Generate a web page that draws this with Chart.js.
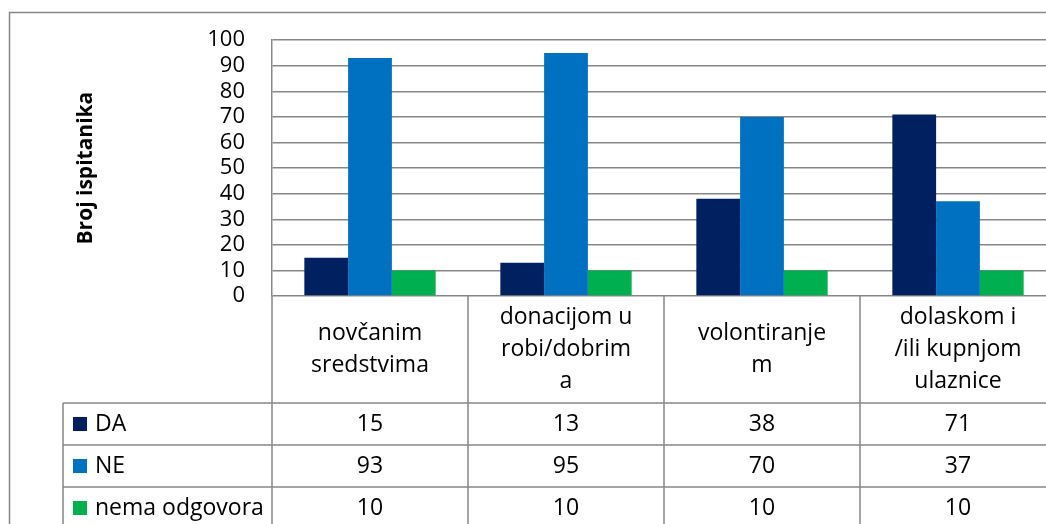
<!DOCTYPE html>
<html lang="hr">
<head>
<meta charset="utf-8">
<title>Broj ispitanika</title>
<script src="https://cdn.jsdelivr.net/npm/chart.js@4.4.1/dist/chart.umd.min.js"></script>
<style>
  html, body { margin: 0; padding: 0; background: #fff; overflow: hidden; }
  #wrap { position: absolute; left: 0; top: 0; }
</style>
</head>
<body>
<div id="wrap"><canvas id="chart" width="1080" height="560"></canvas></div>
<script>
// kategorije (već prelomljene u retke kao u tablici)
const categories = [
  ["novčanim", "sredstvima"],
  ["donacijom u", "robi/dobrim", "a"],
  ["volontiranje", "m"],
  ["dolaskom i", "/ili kupnjom", "ulaznice"]
];
const seriesNames = ["DA", "NE", "nema odgovora"];
const daValues = [15, 13, 38, 71];
const neValues = [93, 95, 70, 37];
const nemaValues = [10, 10, 10, 10];
const yMin = 0;
const yMax = 100;
const yStep = 10;

const LINE = "#878787";
const FONT = "'Open Sans', 'Noto Sans', sans-serif";

// tablica podataka ispod grafa + okvir
const dataTable = {
  id: "dataTable",
  afterDraw(chart) {
    const { ctx, chartArea, scales } = chart;
    const x = scales.x;
    const top = chartArea.bottom;
    const headerBottom = top + 107;
    const rowH = 42;
    const legendLeft = 63;
    const right = chartArea.right;
    const half = (x.getPixelForValue(1) - x.getPixelForValue(0)) / 2;
    const bottom = chart.height + 10;
    const datasets = chart.data.datasets;

    ctx.save();
    ctx.strokeStyle = LINE;
    ctx.lineWidth = 1.5;

    // okvir cijelog grafikona
    ctx.strokeRect(9.5, 12.5, 2000, 2000);

    ctx.beginPath();
    // vodoravne linije redaka
    for (let r = 0; r <= datasets.length; r++) {
      const y = headerBottom + r * rowH;
      ctx.moveTo(legendLeft, y);
      ctx.lineTo(right, y);
    }
    // okomite linije stupaca
    for (let i = 0; i <= categories.length; i++) {
      const xx = i < categories.length ? x.getPixelForValue(i) - half : x.getPixelForValue(i - 1) + half;
      ctx.moveTo(xx, top);
      ctx.lineTo(xx, bottom);
    }
    ctx.moveTo(legendLeft, headerBottom);
    ctx.lineTo(legendLeft, bottom);
    ctx.stroke();

    ctx.fillStyle = "#000";
    ctx.font = `23px ${FONT}`;
    ctx.textAlign = "center";
    ctx.textBaseline = "middle";

    // zaglavlje s nazivima kategorija
    const headMid = (top + headerBottom) / 2;
    chart.data.labels.forEach((lines, i) => {
      const cx = x.getPixelForValue(i);
      lines.forEach((line, k) => {
        ctx.fillText(line, cx, headMid + (k - (lines.length - 1) / 2) * 32);
      });
    });

    // retci s vrijednostima
    datasets.forEach((ds, r) => {
      const cy = headerBottom + r * rowH + rowH / 2;
      ds.data.forEach((v, i) => {
        ctx.fillText(String(v), x.getPixelForValue(i), cy);
      });
      ctx.fillStyle = ds.backgroundColor;
      ctx.fillRect(73, cy - 7, 14, 14);
      ctx.fillStyle = "#000";
      ctx.textAlign = "left";
      ctx.fillText(ds.label, 95, cy);
      ctx.textAlign = "center";
    });

    ctx.restore();
  }
};

new Chart(document.getElementById("chart"), {
  type: "bar",
  data: {
    labels: categories,
    datasets: [
      { label: seriesNames[0], data: daValues, backgroundColor: "#002060" },
      { label: seriesNames[1], data: neValues, backgroundColor: "#0070C0" },
      { label: seriesNames[2], data: nemaValues, backgroundColor: "#00B050" }
    ]
  },
  options: {
    responsive: false,
    animation: false,
    datasets: {
      bar: { categoryPercentage: 0.67, barPercentage: 1, borderWidth: 0 }
    },
    layout: { padding: { left: 0, top: 39, right: 24, bottom: 264 } },
    plugins: {
      legend: { display: false },
      tooltip: { enabled: false }
    },
    scales: {
      x: { display: false },
      y: {
        min: yMin,
        max: yMax,
        ticks: {
          stepSize: yStep,
          autoSkip: false,
          color: "#000",
          font: { family: FONT, size: 22 },
          padding: 27
        },
        grid: { color: LINE, lineWidth: 1.5, drawTicks: false },
        border: { color: LINE, width: 1.5 },
        title: {
          display: true,
          text: "Broj ispitanika",
          color: "#000",
          font: { family: FONT, size: 21, weight: "bold" },
          padding: { top: 73, bottom: 0 }
        },
        afterFit(scale) { scale.width = 272; }
      }
    }
  },
  plugins: [dataTable]
});
</script>
</body>
</html>
